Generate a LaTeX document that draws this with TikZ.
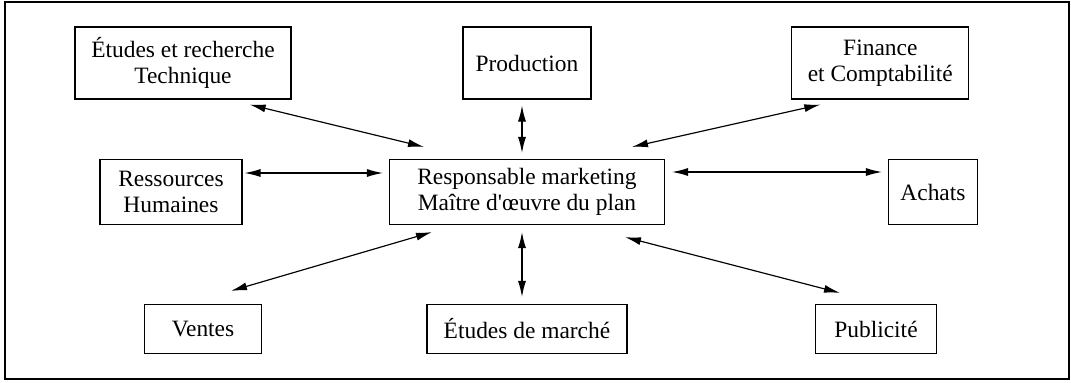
\documentclass[tikz,border=0pt]{standalone}
\usepackage{fontspec}
\setmainfont{Liberation Serif}
\usetikzlibrary{arrows.meta}

\begin{document}
\begin{tikzpicture}[node distance={20mm}, line width=0.5pt, >={Latex[length=2.4mm, width=1.2mm]}]
                \tikzstyle{service} = [rectangle, draw, align=center, inner sep=2pt, font=\fontsize{10}{11}\selectfont]
                \tikzstyle{haut} = [service, minimum height=1.08cm]
                \tikzstyle{milieu} = [service, minimum height=0.975cm]
                \tikzstyle{bas} = [service, minimum height=0.735cm]

                \useasboundingbox (-7.905,-2.85) rectangle (8.16,2.88);
                % Outer frame
                \draw[line width=0.6pt] (-7.83,-2.805) rectangle (8.13,2.85);

                % Middle row (marketing in the centre)
                \node[milieu, minimum width=4.125cm] (resp) {Responsable marketing\\Maître d\textquotesingle œuvre du plan};
                \node[milieu, minimum width=2.13cm] (rh) [left of=resp, xshift=-3.34cm] {Ressources\\Humaines};
                \node[milieu, minimum width=1.335cm] (achats) [right of=resp, xshift=4.09cm] {Achats};

                % Top row
                \node[haut, minimum width=1.92cm] (prod) [above of=resp, yshift=-0.065cm] {Production};
                \node[haut, minimum width=3.24cm] (etudes) [left of=prod, xshift=-3.16cm] {Études et recherche\\Technique};
                \node[haut, minimum width=2.655cm] (fin) [right of=prod, xshift=3.3cm] {Finance\\et Comptabilité};

                % Bottom row
                \node[bas, minimum width=3cm] (marche) [below of=resp, yshift=-0.055cm] {Études de marché};
                \node[bas, minimum width=1.755cm] (ventes) [left of=marche, xshift=-2.86cm] {Ventes};
                \node[bas, minimum width=1.815cm] (pub) [right of=marche, xshift=3.235cm] {Publicité};

                \draw[<->] ([xshift=1cm, yshift=-0.075cm]etudes.south) -- ([xshift=-1.545cm, yshift=0.18cm]resp.north);
                \draw[<->] ([xshift=-0.075cm, yshift=-0.09cm]prod.south) -- ([xshift=-0.075cm, yshift=0.09cm]resp.north);
                \draw[<->] ([xshift=-0.9cm, yshift=-0.075cm]fin.south) -- ([xshift=1.575cm, yshift=0.18cm]resp.north);
                \draw[<->] ([xshift=0.03cm, yshift=0.285cm]rh.east) -- ([xshift=-0.09cm, yshift=0.285cm]resp.west);
                \draw[<->] ([xshift=0.105cm, yshift=0.3cm]resp.east) -- ([xshift=-0.09cm, yshift=0.3cm]achats.west);
                \draw[<->] ([xshift=-1.425cm, yshift=-0.105cm]resp.south) -- ([xshift=0.42cm, yshift=0.195cm]ventes.north);
                \draw[<->] ([xshift=-0.075cm, yshift=-0.105cm]resp.south) -- ([xshift=-0.075cm, yshift=0.105cm]marche.north);
                \draw[<->] ([xshift=1.47cm, yshift=-0.18cm]resp.south) -- ([xshift=-0.54cm, yshift=0.165cm]pub.north);
            \end{tikzpicture}
\end{document}
